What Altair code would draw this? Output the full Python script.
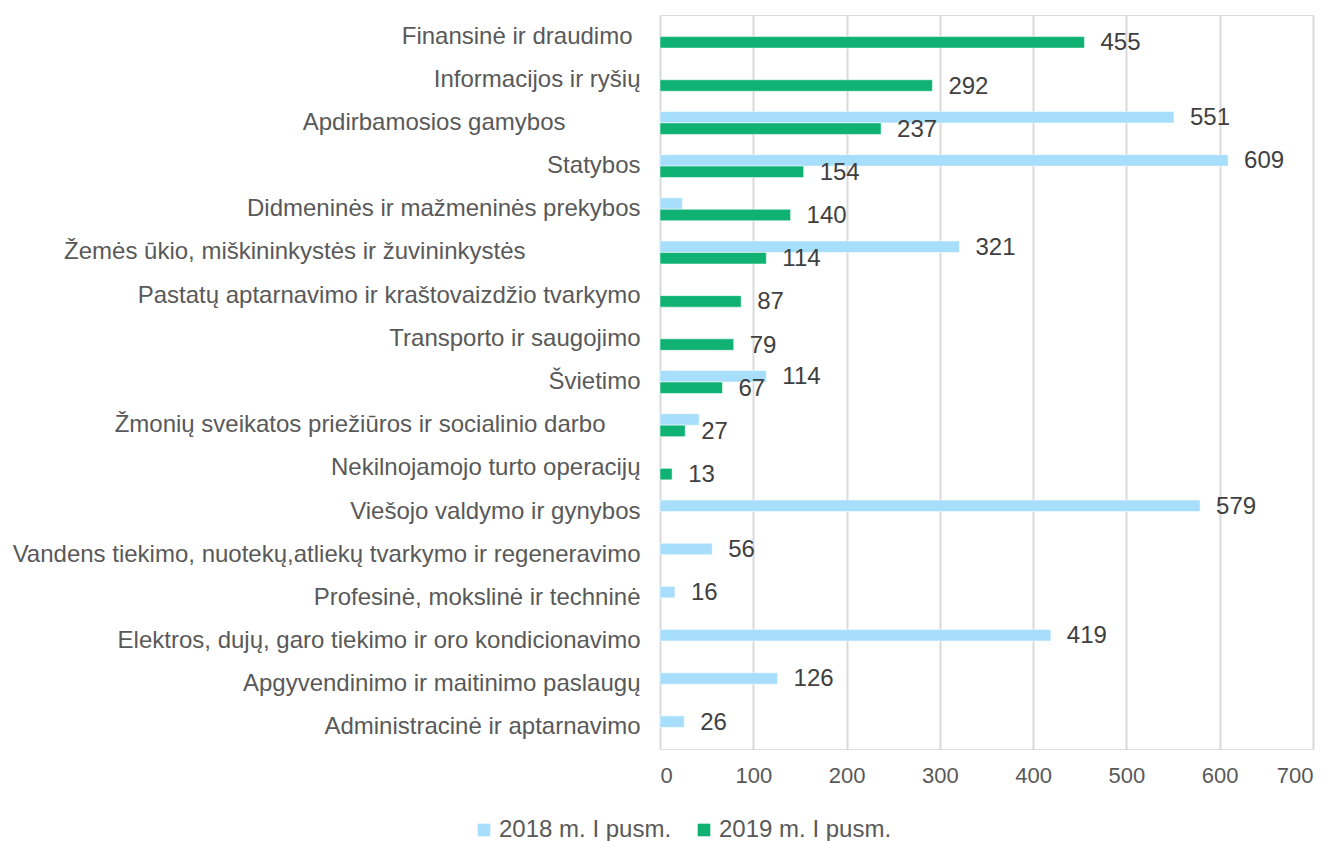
import altair as alt
import pandas as pd

categories = [
    "Finansinė ir draudimo",
    "Informacijos ir ryšių",
    "Apdirbamosios gamybos",
    "Statybos",
    "Didmeninės ir mažmeninės prekybos",
    "Žemės ūkio, miškininkystės ir žuvininkystės",
    "Pastatų aptarnavimo ir kraštovaizdžio tvarkymo",
    "Transporto ir saugojimo",
    "Švietimo",
    "Žmonių sveikatos priežiūros ir socialinio darbo",
    "Nekilnojamojo turto operacijų",
    "Viešojo valdymo ir gynybos",
    "Vandens tiekimo, nuotekų,atliekų tvarkymo ir regeneravimo",
    "Profesinė, mokslinė ir techninė",
    "Elektros, dujų, garo tiekimo ir oro kondicionavimo",
    "Apgyvendinimo ir maitinimo paslaugų",
    "Administracinė ir aptarnavimo",
]
series = ["2018 m. I pusm.", "2019 m. I pusm."]
v2018 = [None, None, 551, 609, 24, 321, None, None, 114, 42, None, 579, 56, 16, 419, 126, 26]
v2019 = [455, 292, 237, 154, 140, 114, 87, 79, 67, 27, 13, None, None, None, None, None, None]
# data labels shown in the original (False = bar drawn without a label)
show2018 = [True, True, True, True, False, True, True, True, True, False, True, True, True, True, True, True, True]
show2019 = [True] * 17

rows = []
for i, c in enumerate(categories):
    for s, vals, shows in ((series[0], v2018, show2018), (series[1], v2019, show2019)):
        v = vals[i]
        if v is None:
            continue
        rows.append({"cat": c, "series": s, "value": v, "label": str(v) if shows[i] else ""})
df = pd.DataFrame(rows)

FONT = "Liberation Sans"

# extra gap after some category labels (the original has trailing blanks there)
extra_gap = {0: 8, 2: 75, 5: 115, 9: 35}
label_padding = {
    "condition": [
        {"test": f"datum.value === {categories[i]!r}", "value": 20 + g}
        for i, g in extra_gap.items()
    ],
    "value": 20,
}

y = alt.Y(
    "cat:N",
    sort=categories,
    scale=alt.Scale(paddingInner=0.468, paddingOuter=0.234),
    axis=alt.Axis(
        title=None, ticks=False, domain=False, labelFontSize=24, labelColor="#595959",
        labelFont=FONT, labelPadding=label_padding, labelLimit=0,
    ),
)
yoff = alt.YOffset("series:N", sort=series, scale=alt.Scale(paddingInner=0, paddingOuter=0))
x = alt.X(
    "value:Q",
    scale=alt.Scale(domain=[0, 700]),
    axis=alt.Axis(
        title=None, values=list(range(0, 701, 100)), grid=True, gridColor="#D9D9D9",
        gridWidth=2, domain=False, ticks=False, labelFontSize=22, labelColor="#595959",
        labelFont=FONT, labelPadding=16,
    ),
)

bars = alt.Chart(df).mark_bar(stroke="white", strokeWidth=0.5).encode(
    x=x,
    y=y,
    yOffset=yoff,
    color=alt.Color(
        "series:N",
        sort=series,
        scale=alt.Scale(domain=series, range=["#A7DEFC", "#10B274"]),
        legend=alt.Legend(
            title=None, orient="none", legendX=-188, legendY=803, direction="horizontal",
            symbolType="square", symbolSize=160, symbolStrokeWidth=0, labelFontSize=24,
            labelColor="#595959", labelFont=FONT, labelLimit=0, columnPadding=20,
            labelOffset=3,
        ),
    ),
)

text = alt.Chart(df).mark_text(
    align="left", baseline="middle", dx=16, dy=1, fontSize=24, color="#404040", font=FONT
).encode(
    x="value:Q",
    y=alt.Y("cat:N", sort=categories),
    yOffset=alt.YOffset("series:N", sort=series),
    text="label:N",
)

chart = (
    alt.layer(bars, text)
    .properties(
        width=653,
        height=734,
        autosize=alt.AutoSizeParams(type="none"),
        padding={"left": 652, "top": 7, "right": 13, "bottom": 92},
    )
    .configure_view(stroke="transparent", strokeWidth=0)
    .configure(background="white")
)

chart.save("out.html", embed_options={"renderer": "svg", "actions": False})
